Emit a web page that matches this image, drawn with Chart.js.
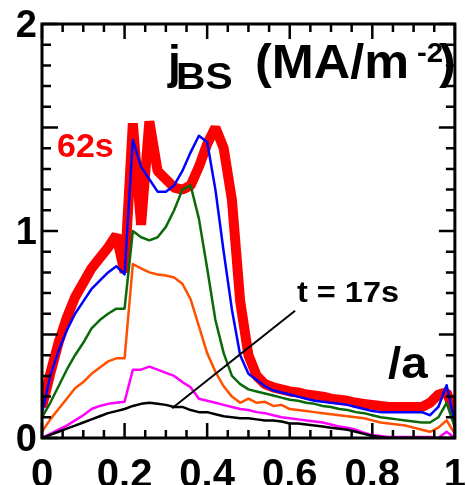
<!DOCTYPE html>
<html><head><meta charset="utf-8">
<script src="https://cdn.jsdelivr.net/npm/chart.js@4/dist/chart.umd.min.js"></script>
<style>
html,body{margin:0;padding:0;overflow:hidden;background:#fff;width:466px;height:485px}
#wrap{position:absolute;left:0;top:0;width:480px;height:520px}
</style></head><body>
<div id="wrap"><canvas id="c" width="480" height="520" style="width:480px;height:520px"></canvas></div>
<script>
// normalized radius rho/a
const rho = [0,0.02,0.04,0.06,0.08,0.10,0.12,0.14,0.16,0.18,0.20,0.22,0.24,0.26,0.28,0.30,0.32,0.34,0.36,0.38,0.40,0.42,0.44,0.46,0.48,0.50,0.52,0.54,0.56,0.58,0.60,0.62,0.64,0.66,0.68,0.70,0.72,0.74,0.76,0.78,0.80,0.82,0.84,0.86,0.88,0.90,0.92,0.94,0.96,0.98,1.00];

// j_BS profiles (MA/m^-2)
const j62s = [0.15,0.31,0.46,0.58,0.68,0.75,0.82,0.87,0.92,0.98,0.80,1.52,1.03,1.53,1.29,1.25,1.21,1.20,1.22,1.31,1.42,1.50,1.40,1.15,0.66,0.40,0.30,0.26,0.245,0.235,0.225,0.22,0.21,0.205,0.20,0.19,0.185,0.18,0.17,0.165,0.16,0.155,0.15,0.15,0.15,0.15,0.15,0.17,0.21,0.22,0.12];
const jBlue = [0.12,0.30,0.42,0.52,0.60,0.66,0.72,0.76,0.80,0.83,0.79,1.44,1.31,1.25,1.19,1.19,1.22,1.29,1.38,1.46,1.43,1.20,0.90,0.62,0.40,0.31,0.28,0.25,0.23,0.22,0.21,0.20,0.19,0.18,0.175,0.17,0.165,0.16,0.15,0.14,0.13,0.125,0.125,0.125,0.125,0.125,0.125,0.11,0.15,0.255,0.07];
const jGreen = [0.10,0.17,0.25,0.33,0.40,0.46,0.53,0.57,0.60,0.625,0.625,1.00,0.97,0.955,0.97,1.02,1.10,1.20,1.22,1.06,0.82,0.57,0.41,0.30,0.26,0.235,0.225,0.215,0.205,0.195,0.185,0.18,0.17,0.165,0.155,0.15,0.14,0.135,0.125,0.12,0.11,0.10,0.095,0.09,0.085,0.08,0.075,0.075,0.10,0.17,0.05];
const jOrange = [0.03,0.09,0.14,0.19,0.24,0.27,0.31,0.34,0.37,0.385,0.385,0.84,0.82,0.80,0.79,0.785,0.775,0.745,0.67,0.54,0.41,0.32,0.25,0.20,0.17,0.19,0.17,0.175,0.155,0.16,0.14,0.135,0.13,0.125,0.12,0.115,0.11,0.105,0.10,0.095,0.085,0.075,0.07,0.065,0.06,0.05,0.04,0.03,0.05,0.085,0.02];
const jMagenta = [0.0,0.02,0.04,0.06,0.085,0.11,0.14,0.155,0.165,0.17,0.175,0.33,0.33,0.345,0.33,0.315,0.30,0.27,0.245,0.19,0.18,0.17,0.16,0.15,0.14,0.135,0.125,0.12,0.11,0.10,0.095,0.09,0.085,0.08,0.075,0.065,0.055,0.05,0.04,0.025,0.015,0.01,0.005,0.005,0.005,0.005,0.005,0.005,0.0,0.03,0.0];
const j17s = [0.0,0.015,0.03,0.045,0.06,0.075,0.09,0.105,0.12,0.13,0.14,0.155,0.165,0.17,0.165,0.16,0.15,0.15,0.135,0.125,0.125,0.115,0.105,0.10,0.095,0.095,0.09,0.085,0.085,0.08,0.07,0.07,0.065,0.06,0.055,0.05,0.045,0.04,0.03,0.02,0.01,0.005,0.0,0.0,0.0,0.0,0.0,0.0,0.0,0.0,0.0];

const xTickLabels = ['0','0.2','0.4','0.6','0.8','1'];
const yTickLabels = ['0','1','2'];

const FONT = '"Liberation Sans", Arial, Helvetica, sans-serif';
const pts = arr => rho.map((x,i)=>({x:x, y:arr[i]}));

function txt(ctx, s, size, x, y, sx){
  ctx.save();
  ctx.font = 'bold '+size+'px '+FONT;
  ctx.translate(x, y); ctx.scale(sx, 1);
  ctx.fillText(s, 0, 0);
  ctx.restore();
}

const decor = {
  id:'decor',
  afterDatasetsDraw(chart){
    const {ctx, chartArea:a, scales:{x,y}} = chart;
    ctx.save();
    ctx.strokeStyle='#000'; ctx.lineCap='butt';
    // inward ticks on all four sides
    ctx.lineWidth=2.5;
    for (let i=0;i<=20;i++){
      const px=x.getPixelForValue(i*0.05); const L=(i%4===0)?15:8;
      ctx.beginPath();
      ctx.moveTo(px,a.bottom); ctx.lineTo(px,a.bottom-L);
      ctx.moveTo(px,a.top); ctx.lineTo(px,a.top+L);
      ctx.stroke();
    }
    for (let i=0;i<=20;i++){
      const py=y.getPixelForValue(i*0.1); const L=(i%5===0)?16:9;
      ctx.beginPath();
      ctx.moveTo(a.left,py); ctx.lineTo(a.left+L,py);
      ctx.moveTo(a.right,py); ctx.lineTo(a.right-L,py);
      ctx.stroke();
    }
    ctx.lineWidth=3;
    ctx.strokeRect(a.left,a.top,a.right-a.left,a.bottom-a.top);
    // pointer line for t = 17s
    ctx.lineWidth=2;
    ctx.beginPath();
    ctx.moveTo(x.getPixelForValue(0.613), y.getPixelForValue(0.615));
    ctx.lineTo(x.getPixelForValue(0.315), y.getPixelForValue(0.144));
    ctx.stroke();
    // texts
    ctx.textAlign='left'; ctx.textBaseline='alphabetic';
    ctx.fillStyle='#000';
    txt(ctx,'j',46,168,78,1.0);
    txt(ctx,'BS',37,176,89,1.1);
    txt(ctx,'(MA/m',48,255,78,1.05);
    txt(ctx,'-2',28,417,62,1.05);
    txt(ctx,')',48,439,78,1.05);
    txt(ctx,'t = 17s',29,297,302,1.12);
    txt(ctx,'/a',44,388,378,1.08);
    ctx.fillStyle='#ff0000';
    txt(ctx,'62s',34,57,157,1.0);
    ctx.restore();
  }
};

new Chart(document.getElementById('c'), {
  type:'line',
  data:{datasets:[
    {label:'t = 17s', data:pts(j17s), borderColor:'#000000', borderWidth:2.5, order:1},
    {label:'magenta', data:pts(jMagenta), borderColor:'#ff00ff', borderWidth:2.5, order:2},
    {label:'orange', data:pts(jOrange), borderColor:'#ff5000', borderWidth:2.5, order:3},
    {label:'green', data:pts(jGreen), borderColor:'#0a6a0a', borderWidth:2.5, order:4},
    {label:'blue', data:pts(jBlue), borderColor:'#0000ff', borderWidth:2.5, order:5},
    {label:'62s', data:pts(j62s), borderColor:'#ff0000', borderWidth:10, borderJoinStyle:'bevel', order:6}
  ]},
  options:{
    responsive:false, animation:false, devicePixelRatio:1,
    layout:{padding:{left:10.87, top:22, right:22, bottom:6}},
    plugins:{legend:{display:false}, tooltip:{enabled:false}},
    elements:{point:{radius:0}, line:{tension:0, fill:false, borderJoinStyle:'round'}},
    scales:{
      x:{type:'linear', min:0, max:1,
         border:{display:false}, grid:{display:false, drawTicks:false},
         ticks:{stepSize:0.2, padding:14, color:'#000', font:{family:FONT, size:40, weight:'bold', lineHeight:1.2},
                maxRotation:0, autoSkip:false,
                callback:(v)=>xTickLabels[Math.round(v/0.2)]}},
      y:{type:'linear', min:0, max:2,
         border:{display:false}, grid:{display:false, drawTicks:false},
         ticks:{stepSize:1, padding:5, labelOffset:3, color:'#000', font:{family:FONT, size:38, weight:'bold', lineHeight:1},
                callback:(v)=>yTickLabels[Math.round(v)]}}
    }
  },
  plugins:[decor]
});
</script>
</body></html>
